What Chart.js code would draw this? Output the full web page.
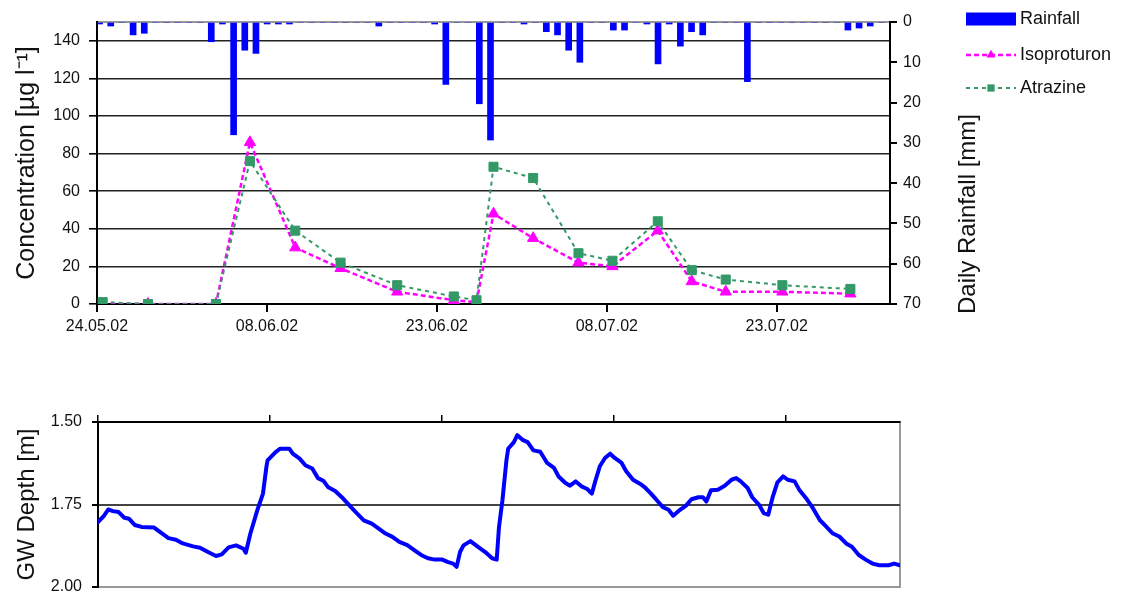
<!DOCTYPE html>
<html>
<head>
<meta charset="utf-8">
<title>Rainfall, herbicide concentrations and groundwater depth</title>
<script src="https://cdn.jsdelivr.net/npm/chart.js@4/dist/chart.umd.min.js"></script>
<style>
  html, body { margin: 0; padding: 0; background: #fff; width: 1122px; height: 592px; overflow: hidden; }
  canvas { position: absolute; left: 0; }
  #top { top: 0; }
  #bottom { top: 395px; }
</style>
</head>
<body>
<canvas id="top" width="1122" height="340"></canvas>
<canvas id="bottom" width="1122" height="197"></canvas>
<script>
const FONT = "'Liberation Sans', Arial, Helvetica, sans-serif";
Chart.defaults.font.family = FONT;
Chart.defaults.color = '#111';

// Date axis: day offsets from 24.05.02 and their labels
const tickDays = [0, 15, 30, 45, 60];
const tickDates = ['24.05.02', '08.06.02', '23.06.02', '08.07.02', '23.07.02'];

// Daily rainfall [mm], one value per day starting 24.05.02
const rainfall = [
  0.5, 1.0, 0, 3.2, 2.8, 0, 0, 0, 0, 0,
  4.9, 0.5, 28.0, 7.0, 7.8, 0.5, 0.5, 0.5, 0, 0,
  0, 0, 0, 0, 0, 1.0, 0, 0, 0, 0,
  0.5, 15.5, 0, 0, 20.3, 29.3, 0, 0, 0.5, 0,
  2.4, 3.2, 7.0, 10.0, 0, 0, 2.0, 2.0, 0, 0.5,
  10.4, 0.5, 6.0, 2.4, 3.2, 0, 0, 0, 14.8, 0,
  0, 0, 0, 0, 0, 0, 0, 2.0, 1.5, 1.0,
  0
];

// Sampling times (days after 24.05.02) and concentrations [µg/l]
const sampleDays  = [0.5, 4.5, 10.5, 13.5, 17.5, 21.5, 26.5, 31.5, 33.5, 35, 38.5, 42.5, 45.5, 49.5, 52.5, 55.5, 60.5, 66.5];
const isoproturon = [0,   0,   0,    86,   30,   19,   6.5,  2,    1,    48, 35,   22,   20,   39,   12,   6.5,  6.5,  5.5];
const atrazine    = [1,   0,   0,    76,   39,   22,   10,   4,    2,    73, 67,   27,   23,   44,   18,   13,   10,   8];

// Groundwater depth below ground [m] (days after 24.05.02)
const gwDays = [
  0, 0.5, 0.9, 1.3, 1.8, 2.3, 2.7, 3.2, 3.8, 4.9, 5.4, 6.15, 6.8, 7.4, 8.3, 8.9, 9.6, 10.3, 10.8, 11.4,
  12.05, 12.7, 12.9, 13.3, 13.9, 14.4, 14.7, 14.8, 15.5, 15.9, 16.7, 17.0, 17.6, 18.1, 18.7, 19.2, 19.7, 20.1, 20.7, 21.4,
  22.0, 22.6, 23.2, 23.9, 24.5, 25.1, 25.7, 26.3, 27.0, 27.6, 28.2, 28.8, 29.4, 30.06, 30.5, 31.0, 31.3, 31.6, 31.9, 32.5,
  33.2, 33.8, 34.4, 34.8, 35.0, 35.3, 35.65, 35.8, 36.3, 36.6, 37.05, 37.5, 38.0, 38.6, 39.2, 39.8, 40.2, 40.8, 41.2, 41.7,
  42.2, 42.7, 43.1, 43.4, 43.8, 44.25, 44.7, 45.1, 45.7, 46.1, 46.7, 47.3, 47.7, 48.2, 48.7, 49.3, 49.8, 50.2, 50.8, 51.3,
  51.8, 52.4, 52.8, 53.1, 53.5, 54.1, 54.7, 55.3, 55.7, 56.1, 56.7, 57.1, 57.7, 58.1, 58.5, 58.9, 59.3, 59.8, 60.2, 60.8,
  61.2, 61.8, 62.4, 63.0, 63.5, 64.1, 64.7, 65.3, 65.8, 66.4, 67.0, 67.6, 68.2, 69.0, 69.5, 70.0
];
const gwDepth = [
  1.803, 1.785, 1.765, 1.770, 1.773, 1.790, 1.793, 1.812, 1.818, 1.820, 1.833, 1.852, 1.857, 1.868, 1.877, 1.881, 1.894, 1.906, 1.901, 1.880,
  1.874, 1.884, 1.896, 1.838, 1.768, 1.717, 1.636, 1.616, 1.591, 1.581, 1.581, 1.596, 1.611, 1.631, 1.641, 1.670, 1.679, 1.698, 1.709, 1.732,
  1.755, 1.777, 1.798, 1.808, 1.823, 1.838, 1.848, 1.863, 1.873, 1.888, 1.903, 1.913, 1.917, 1.917, 1.924, 1.929, 1.939, 1.894, 1.874, 1.861,
  1.879, 1.894, 1.913, 1.917, 1.818, 1.737, 1.616, 1.581, 1.561, 1.540, 1.554, 1.561, 1.586, 1.590, 1.624, 1.639, 1.665, 1.685, 1.693, 1.680,
  1.695, 1.703, 1.717, 1.680, 1.634, 1.609, 1.596, 1.609, 1.624, 1.649, 1.675, 1.687, 1.697, 1.715, 1.734, 1.758, 1.766, 1.784, 1.766, 1.754,
  1.734, 1.728, 1.728, 1.741, 1.707, 1.705, 1.693, 1.675, 1.670, 1.680, 1.700, 1.728, 1.751, 1.776, 1.781, 1.726, 1.683, 1.665, 1.675, 1.680,
  1.705, 1.731, 1.761, 1.797, 1.815, 1.837, 1.847, 1.868, 1.878, 1.903, 1.917, 1.929, 1.934, 1.934, 1.929, 1.934
];

// Grey plot-area frame, drawn under axes and grid
const plotFrame = {
  id: 'plotFrame',
  beforeDraw(chart) {
    const { ctx, chartArea: a } = chart;
    ctx.save();
    ctx.strokeStyle = '#999';
    ctx.lineWidth = 2;
    ctx.strokeRect(a.left, a.top, a.right - a.left, a.bottom - a.top);
    ctx.restore();
  }
};

// Right axis title (reading upwards) and the series key on the right
const sideKey = {
  id: 'sideKey',
  afterDraw(chart) {
    const ctx = chart.ctx;
    ctx.save();
    ctx.fillStyle = '#111';
    ctx.font = '24px ' + FONT;
    ctx.textAlign = 'center';
    ctx.textBaseline = 'middle';
    ctx.translate(968, 214);
    ctx.rotate(-Math.PI / 2);
    ctx.fillText('Daily Rainfall [mm]', 0, 0);
    ctx.restore();

    const x0 = 966, x1 = 1016, tx = 1020;
    const rows = [19, 55, 88];
    chart.data.datasets.forEach((ds, i) => {
      const y = rows[i];
      const cx = (x0 + x1) / 2;
      ctx.save();
      if (ds.type === 'bar') {
        ctx.fillStyle = ds.backgroundColor;
        ctx.fillRect(x0, y - 6.5, x1 - x0, 13);
      } else {
        ctx.strokeStyle = ds.borderColor;
        ctx.lineWidth = ds.borderWidth;
        ctx.setLineDash(ds.borderDash || []);
        ctx.beginPath();
        ctx.moveTo(x0, y);
        ctx.lineTo(x1, y);
        ctx.stroke();
        ctx.setLineDash([]);
        ctx.fillStyle = ds.pointBackgroundColor;
        const r = ds.pointRadius * 0.8;
        ctx.beginPath();
        if (ds.pointStyle === 'triangle') {
          ctx.moveTo(cx, y - r);
          ctx.lineTo(cx + r * Math.sin(Math.PI / 3), y + r / 2);
          ctx.lineTo(cx - r * Math.sin(Math.PI / 3), y + r / 2);
          ctx.closePath();
        } else {
          const s = r * Math.SQRT1_2;
          ctx.rect(cx - s, y - s, 2 * s, 2 * s);
        }
        ctx.fill();
      }
      ctx.fillStyle = '#111';
      ctx.font = '18px ' + FONT;
      ctx.textAlign = 'left';
      ctx.textBaseline = 'middle';
      ctx.fillText(ds.label, tx, y);
      ctx.restore();
    });
  }
};

// Upper panel: rainfall bars (reversed right axis) and concentrations
new Chart(document.getElementById('top'), {
  type: 'line',
  data: {
    labels: rainfall.map((_, i) => i),
    datasets: [
      {
        type: 'bar', label: 'Rainfall', data: rainfall,
        xAxisID: 'xb', yAxisID: 'yr',
        backgroundColor: '#0000FF', borderWidth: 0, barThickness: 6, order: 3
      },
      {
        type: 'line', label: 'Isoproturon',
        data: sampleDays.map((d, i) => ({ x: d, y: isoproturon[i] })),
        xAxisID: 'x', yAxisID: 'y',
        borderColor: '#FF00FF', borderWidth: 2.5, borderDash: [5, 3],
        pointStyle: 'triangle', pointRadius: 6.5,
        pointBackgroundColor: '#FF00FF', pointBorderColor: '#FF00FF', pointBorderWidth: 1,
        tension: 0, fill: false, order: 2
      },
      {
        type: 'line', label: 'Atrazine',
        data: sampleDays.map((d, i) => ({ x: d, y: atrazine[i] })),
        xAxisID: 'x', yAxisID: 'y',
        borderColor: '#339966', borderWidth: 2, borderDash: [4, 4],
        pointStyle: 'rect', pointRadius: 6.4,
        pointBackgroundColor: '#339966', pointBorderColor: '#339966', pointBorderWidth: 1,
        tension: 0, fill: false, order: 1
      }
    ]
  },
  options: {
    responsive: false,
    animation: false,
    events: [],
    layout: { padding: { left: 0, top: 22, right: 157, bottom: 0 } },
    plugins: { legend: { display: false }, tooltip: { enabled: false } },
    scales: {
      x: {
        type: 'linear', position: 'bottom', min: 0, max: 70, offset: false,
        afterBuildTicks: s => { s.ticks = tickDays.map(v => ({ value: v })); },
        ticks: {
          autoSkip: false, maxRotation: 0, padding: 5, font: { size: 16 },
          callback: v => { const k = tickDays.indexOf(v); return k >= 0 ? tickDates[k] : ''; }
        },
        grid: { drawOnChartArea: false, offset: false, tickLength: 8, color: '#000', lineWidth: 2 },
        border: { color: '#000', width: 2 },
        afterFit: s => { s.height = 36; }
      },
      xb: { type: 'category', display: false, offset: true },
      y: {
        position: 'left', min: 0, max: 150,
        afterBuildTicks: s => { s.ticks = s.ticks.filter(t => t.value % 20 === 0); },
        ticks: { stepSize: 20, padding: 9, font: { size: 16 } },
        grid: { color: '#222', lineWidth: 1.6, tickLength: 8, tickColor: '#000' },
        border: { color: '#000', width: 2 },
        title: {
          display: true, text: 'Concentration [µg l⁻¹]', color: '#111',
          font: { size: 25 }, padding: { top: 12, bottom: 0 }
        },
        afterFit: s => { s.width = 97; }
      },
      yr: {
        position: 'right', reverse: true, min: 0, max: 70,
        ticks: { stepSize: 10, padding: 6, font: { size: 16 } },
        grid: { drawOnChartArea: false, tickLength: 7, color: '#000', lineWidth: 2 },
        border: { color: '#000', width: 2 },
        afterFit: s => { s.width = 75; }
      }
    }
  },
  plugins: [plotFrame, sideKey]
});

// Lower panel: groundwater depth (depth increases downwards)
new Chart(document.getElementById('bottom'), {
  type: 'line',
  data: {
    datasets: [{
      label: 'GW Depth',
      data: gwDays.map((d, i) => ({ x: d, y: gwDepth[i] })),
      borderColor: '#0000FF', borderWidth: 4, pointRadius: 0,
      tension: 0, fill: false, borderJoinStyle: 'round', borderCapStyle: 'round'
    }]
  },
  options: {
    responsive: false,
    animation: false,
    events: [],
    layout: { padding: { left: 0, top: 0, right: 222, bottom: 5 } },
    plugins: { legend: { display: false }, tooltip: { enabled: false } },
    scales: {
      x: {
        type: 'linear', position: 'top', min: 0, max: 70, offset: false,
        afterBuildTicks: s => { s.ticks = tickDays.map(v => ({ value: v })); },
        ticks: { display: false },
        grid: { drawOnChartArea: false, tickLength: 7, color: '#000', lineWidth: 1.5 },
        border: { color: '#000', width: 2 },
        afterFit: s => { s.height = 27; }
      },
      y: {
        reverse: true, min: 1.5, max: 2.0,
        ticks: { stepSize: 0.25, padding: 10, font: { size: 16 }, callback: v => Number(v).toFixed(2) },
        grid: {
          color: c => (c.tick && Math.abs(c.tick.value - 1.75) < 1e-6) ? '#444' : 'rgba(0,0,0,0)',
          tickColor: '#000', lineWidth: 2, tickLength: 6
        },
        border: { color: '#000', width: 2 },
        title: {
          display: true, text: 'GW Depth [m]', color: '#111',
          font: { size: 24 }, padding: { top: 13, bottom: 0 }
        },
        afterFit: s => { s.width = 98; s.paddingTop = 0; s.paddingBottom = 0; }
      }
    }
  },
  plugins: [plotFrame]
});
</script>
</body>
</html>
